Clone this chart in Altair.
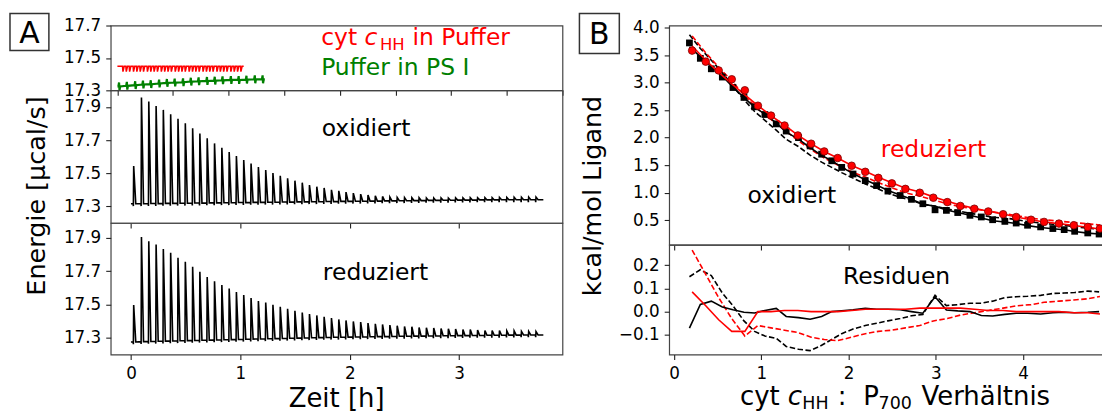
import altair as alt
import pandas as pd

FONT = "DejaVu Sans"

# ---------------- Panel A data (ITC thermograms) ----------------
# injection times [h]
inj_t = [0.022,
         0.093, 0.160, 0.227, 0.293, 0.360, 0.427, 0.494, 0.561, 0.627, 0.694,
         0.761, 0.828, 0.895, 0.961, 1.028, 1.095, 1.162, 1.229, 1.295, 1.362,
         1.429, 1.496, 1.563, 1.629, 1.696, 1.763, 1.830, 1.897, 1.963, 2.030,
         2.097, 2.164, 2.231, 2.297, 2.364, 2.431, 2.498, 2.565, 2.631, 2.698,
         2.765, 2.832, 2.899, 2.965, 3.032, 3.099, 3.166, 3.233, 3.299, 3.366,
         3.433, 3.500, 3.567, 3.633, 3.700]
trace_end_t = 3.77

# oxidiert: peak and baseline per injection [µcal/s]
ox_peak = [17.543,
           17.956, 17.932, 17.906, 17.882, 17.856, 17.829, 17.801, 17.771, 17.739, 17.711,
           17.680, 17.654, 17.628, 17.604, 17.580, 17.558, 17.537, 17.519, 17.501, 17.485,
           17.469, 17.455, 17.443, 17.429, 17.419, 17.411, 17.400, 17.394, 17.386, 17.380,
           17.374, 17.368, 17.364, 17.360, 17.356, 17.354, 17.353, 17.352, 17.352, 17.351,
           17.351, 17.351, 17.350, 17.351, 17.351, 17.352, 17.352, 17.353, 17.353, 17.354,
           17.354, 17.355, 17.355, 17.356, 17.356]
ox_base = [17.316,
           17.316, 17.317, 17.317, 17.318, 17.318, 17.319, 17.319, 17.320, 17.320, 17.321,
           17.321, 17.322, 17.322, 17.323, 17.323, 17.324, 17.324, 17.325, 17.325, 17.326,
           17.326, 17.327, 17.327, 17.328, 17.328, 17.329, 17.329, 17.330, 17.330, 17.331,
           17.331, 17.332, 17.332, 17.333, 17.333, 17.334, 17.334, 17.335, 17.335, 17.336,
           17.336, 17.337, 17.337, 17.338, 17.338, 17.338, 17.339, 17.339, 17.339, 17.340,
           17.340, 17.340, 17.340, 17.340, 17.340]
# reduziert
rd_peak = [17.497,
           17.906, 17.880, 17.860, 17.834, 17.811, 17.781, 17.757, 17.727, 17.697, 17.666,
           17.640, 17.618, 17.596, 17.576, 17.558, 17.540, 17.522, 17.512, 17.499, 17.487,
           17.475, 17.463, 17.453, 17.443, 17.435, 17.427, 17.419, 17.411, 17.405, 17.399,
           17.395, 17.389, 17.385, 17.381, 17.377, 17.373, 17.369, 17.367, 17.363, 17.361,
           17.360, 17.357, 17.355, 17.354, 17.351, 17.350, 17.348, 17.345, 17.345, 17.344,
           17.342, 17.342, 17.339, 17.339, 17.338]
rd_base = [17.276,
           17.278, 17.279, 17.280, 17.281, 17.282, 17.283, 17.284, 17.285, 17.286, 17.287,
           17.288, 17.289, 17.290, 17.291, 17.292, 17.293, 17.294, 17.295, 17.296, 17.297,
           17.298, 17.299, 17.300, 17.301, 17.302, 17.303, 17.304, 17.304, 17.305, 17.306,
           17.306, 17.307, 17.308, 17.308, 17.309, 17.310, 17.310, 17.311, 17.311, 17.312,
           17.312, 17.313, 17.313, 17.314, 17.314, 17.315, 17.315, 17.316, 17.316, 17.316,
           17.317, 17.317, 17.318, 17.318, 17.318]

# control runs (top strip, own time axis)
ctrl_red_t = [0.10, 0.16, 0.22, 0.29, 0.35, 0.41, 0.47, 0.54, 0.60, 0.66, 0.72, 0.79,
              0.85, 0.91, 0.97, 1.04, 1.10, 1.16, 1.22, 1.29, 1.35, 1.41, 1.47, 1.54,
              1.60, 1.66, 1.72, 1.79, 1.85, 1.91, 1.97, 2.04, 2.10, 2.16, 2.22]
ctrl_red_level = 17.448
ctrl_red_dip = 17.415
ctrl_red_end_t = 2.27
ctrl_green_t = [0.03, 0.17, 0.32, 0.46, 0.60, 0.75, 0.89, 1.03, 1.18, 1.32, 1.46, 1.61,
                1.75, 1.89, 2.04, 2.18, 2.32, 2.47, 2.61]
ctrl_green_base = [17.324, 17.328, 17.332, 17.336, 17.338, 17.342, 17.346, 17.348, 17.350,
                   17.354, 17.356, 17.358, 17.360, 17.362, 17.364, 17.364, 17.366, 17.368,
                   17.368]
ctrl_green_end_t = 2.65

# ---------------- Panel B data (binding isotherms) ----------------
ox_ratio = [0.175, 0.30, 0.426, 0.552, 0.674, 0.80, 0.922, 1.04, 1.17, 1.284,
            1.425, 1.558, 1.69, 1.806, 1.92, 2.05, 2.19, 2.32, 2.45, 2.59,
            2.72, 2.85, 2.99, 3.12, 3.25, 3.39, 3.52, 3.65, 3.79, 3.92,
            4.05, 4.20, 4.34, 4.47, 4.59, 4.74, 4.87]
ox_heat = [3.72, 3.44, 3.25, 3.10, 2.91, 2.73, 2.56, 2.42, 2.25, 2.12,
           2.00, 1.85, 1.70, 1.58, 1.46, 1.34, 1.22, 1.13, 1.03, 0.95,
           0.88, 0.80, 0.69, 0.68, 0.64, 0.59, 0.56, 0.51, 0.48, 0.45,
           0.41, 0.38, 0.35, 0.33, 0.30, 0.27, 0.25]
ox_res_solid = [-0.071, 0.031, 0.045, 0.02, 0.008, -0.003, -0.006, 0.005, 0.014, -0.021,
                -0.026, -0.033, -0.021, 0.0, 0.004, 0.008, 0.014, 0.01, 0.01, 0.008,
                0.0, -0.007, 0.064, 0.007, 0.003, 0.0, -0.017, -0.019, -0.012, -0.007,
                -0.007, -0.01, -0.005, -0.003, -0.005, -0.003, 0.0]
ox_res_dash = [0.15, 0.18, 0.155, 0.08, 0.025, -0.04, -0.085, -0.105, -0.115, -0.15,
               -0.162, -0.168, -0.145, -0.12, -0.095, -0.075, -0.06, -0.05, -0.04, -0.03,
               -0.018, -0.012, 0.07, 0.026, 0.03, 0.036, 0.036, 0.045, 0.06, 0.064,
               0.066, 0.07, 0.078, 0.08, 0.082, 0.088, 0.085]

rd_ratio = [0.206, 0.362, 0.51, 0.66, 0.81, 0.96, 1.11, 1.265, 1.417, 1.57,
            1.72, 1.874, 2.034, 2.19, 2.34, 2.495, 2.65, 2.815, 2.97, 3.13,
            3.28, 3.44, 3.60, 3.77, 3.92, 4.09, 4.24, 4.41, 4.58, 4.74, 4.88]
rd_heat = [3.58, 3.38, 3.22, 3.06, 2.86, 2.58, 2.40, 2.22, 2.04, 1.89,
           1.75, 1.63, 1.49, 1.38, 1.27, 1.17, 1.07, 1.00, 0.91, 0.83,
           0.76, 0.71, 0.66, 0.61, 0.56, 0.51, 0.47, 0.44, 0.41, 0.38, 0.35]
rd_res_solid = [0.085, 0.025, -0.035, -0.085, -0.085, 0.0, 0.0, 0.005, 0.005, 0.0,
                0.0, 0.0, 0.005, 0.01, 0.01, 0.01, 0.01, 0.015, 0.015, 0.015,
                0.015, 0.01, 0.005, 0.005, 0.0, 0.0, 0.0, 0.0, -0.005, -0.005, -0.01]
rd_res_dash = [0.265, 0.16, 0.06, -0.03, -0.105, -0.06, -0.07, -0.08, -0.09, -0.11,
               -0.12, -0.125, -0.11, -0.095, -0.085, -0.08, -0.07, -0.06, -0.04, -0.03,
               -0.015, -0.005, 0.005, 0.015, 0.025, 0.03, 0.04, 0.045, 0.05, 0.055, 0.065]

assert len(inj_t) == len(ox_peak) == len(ox_base) == len(rd_peak) == len(rd_base)
assert len(ctrl_green_t) == len(ctrl_green_base)
assert len(ox_ratio) == len(ox_heat) == len(ox_res_solid) == len(ox_res_dash)
assert len(rd_ratio) == len(rd_heat) == len(rd_res_solid) == len(rd_res_dash)


# ---------------- tables ----------------
def thermo_df(ts, peaks, bases, t_end):
    tt, vv = [0.0], [bases[0]]
    for t, p, b in zip(ts, peaks, bases):
        tt += [t - 0.002, t, t + 0.003, t + 0.022]
        vv += [b, b - 0.014, p, b]
    tt.append(t_end)
    vv.append(bases[-1])
    return pd.DataFrame({"t": tt, "v": vv, "o": list(range(len(tt)))})


ox_df = thermo_df(inj_t, ox_peak, ox_base, trace_end_t)
rd_df = thermo_df(inj_t, rd_peak, rd_base, trace_end_t)

tt, vv = [0.0], [ctrl_red_level]
for t in ctrl_red_t:
    tt += [t - 0.008, t, t + 0.022]
    vv += [ctrl_red_level, ctrl_red_dip, ctrl_red_level]
tt.append(ctrl_red_end_t)
vv.append(ctrl_red_level)
ctrl_red_df = pd.DataFrame({"t": tt, "v": vv, "o": list(range(len(tt)))})

tt, vv = [0.0], [ctrl_green_base[0]]
for t, b in zip(ctrl_green_t, ctrl_green_base):
    tt += [t - 0.012, t, t + 0.008, t + 0.02]
    vv += [b, b + 0.024, b - 0.024, b]
tt.append(ctrl_green_end_t)
vv.append(ctrl_green_base[-1])
ctrl_green_df = pd.DataFrame({"t": tt, "v": vv, "o": list(range(len(tt)))})

ox_pts = pd.DataFrame({"x": ox_ratio, "v": ox_heat})
rd_pts = pd.DataFrame({"x": rd_ratio, "v": rd_heat})
ox_fit_solid = pd.DataFrame({"x": ox_ratio, "v": [h + r for h, r in zip(ox_heat, ox_res_solid)]})
ox_fit_dash = pd.DataFrame({"x": ox_ratio, "v": [h + r for h, r in zip(ox_heat, ox_res_dash)]})
rd_fit_solid = pd.DataFrame({"x": rd_ratio, "v": [h + r for h, r in zip(rd_heat, rd_res_solid)]})
rd_fit_dash = pd.DataFrame({"x": rd_ratio, "v": [h + r for h, r in zip(rd_heat, rd_res_dash)]})
ox_rs = pd.DataFrame({"x": ox_ratio, "r": ox_res_solid})
ox_rd = pd.DataFrame({"x": ox_ratio, "r": ox_res_dash})
rd_rs = pd.DataFrame({"x": rd_ratio, "r": rd_res_solid})
rd_rd = pd.DataFrame({"x": rd_ratio, "r": rd_res_dash})

one = pd.DataFrame({"k": [0]})


# ---------------- helpers ----------------
def ax(values, labels=True, fmt=None):
    d = dict(values=values, labels=labels, title=None)
    if fmt:
        d["format"] = fmt
    return alt.Axis(**d)


def txt(s, x, y, size, color="black", style="normal", align="left", angle=None):
    kw = dict(text=s, font=FONT, fontSize=size, color=color, fontStyle=style,
              align=align, baseline="alphabetic")
    if angle is not None:
        kw["angle"] = angle
    return alt.Chart(one).mark_text(**kw).encode(x=alt.value(x), y=alt.value(y))


def box(x1, x2, y1, y2):
    return alt.Chart(one).mark_rect(fill="white", stroke="#333", strokeWidth=1.5).encode(
        x=alt.value(x1), x2=alt.value(x2), y=alt.value(y1), y2=alt.value(y2))


RED = "#ff0000"
GREEN = "#008000"

# ---------------- Panel A ----------------
a1_x = alt.X("t:Q", scale=alt.Scale(domain=[-0.12, 8.0], nice=False, zero=False),
             axis=ax(list(range(9)), labels=False))
a1_y = alt.Y("v:Q", scale=alt.Scale(domain=[17.3, 17.7], nice=False, zero=False),
             axis=ax([17.3, 17.5, 17.7], fmt=".1f"))
A1 = alt.layer(
    box(-101, -62, -12, 25),
    txt("A", -81.5, 17.5, 30, align="center"),
    alt.Chart(ctrl_red_df).mark_line(color=RED, strokeWidth=1.5).encode(x=a1_x, y=a1_y, order="o:Q"),
    alt.Chart(ctrl_green_df).mark_line(color=GREEN, strokeWidth=2.2).encode(x=a1_x, y=a1_y, order="o:Q"),
    txt("cyt", 211, 19.5, 23.5, color=RED),
    txt("c", 254.5, 19.5, 23.5, color=RED, style="italic"),
    txt("HH", 270, 24.5, 16.5, color=RED),
    txt("in Puffer", 302.5, 19.5, 23.5, color=RED),
    txt("Puffer in PS I", 211, 50, 23.5, color=GREEN),
).properties(width=453, height=65)

t_scale = alt.Scale(domain=[-0.185, 3.945], nice=False, zero=False)
e_vals = [17.3, 17.5, 17.7, 17.9]

A2 = alt.layer(
    alt.Chart(ox_df).mark_line(color="black", strokeWidth=1.6).encode(
        x=alt.X("t:Q", scale=t_scale, axis=ax([0, 1, 2, 3], labels=False)),
        y=alt.Y("v:Q", scale=alt.Scale(domain=[17.2, 18.0], nice=False, zero=False),
                axis=ax(e_vals, fmt=".1f")),
        order="o:Q"),
    txt("oxidiert", 256, 46, 23.5, align="center"),
    txt("Energie [µcal/s]", -66, 106, 25.5, align="center", angle=270),
).properties(width=453, height=133)

A3 = alt.layer(
    alt.Chart(rd_df).mark_line(color="black", strokeWidth=1.6).encode(
        x=alt.X("t:Q", scale=t_scale, axis=ax([0, 1, 2, 3], fmt="d")),
        y=alt.Y("v:Q", scale=alt.Scale(domain=[17.2, 17.99], nice=False, zero=False),
                axis=ax(e_vals, fmt=".1f")),
        order="o:Q"),
    txt("reduziert", 265.5, 57.3, 23.5, align="center"),
    txt("Zeit [h]", 226.5, 184.5, 26, align="center"),
).properties(width=453, height=132)

# ---------------- Panel B ----------------
bx_scale = alt.Scale(domain=[-0.057, 5.029], nice=False, zero=False)
b1_x = alt.X("x:Q", scale=bx_scale, axis=ax([0, 1, 2, 3, 4, 5], labels=False))
b1_y = alt.Y("v:Q", scale=alt.Scale(domain=[0.053, 4.036], nice=False, zero=False),
             axis=ax([0.5, 1.0, 1.5, 2.0, 2.5, 3.0, 3.5, 4.0], fmt=".1f"))
DASH = [5.5, 2.5]

B1 = alt.layer(
    box(-90, -50, -12, 28),
    txt("B", -70, 19, 30, align="center"),
    alt.Chart(ox_fit_dash).mark_line(color="black", strokeWidth=1.6, strokeDash=DASH).encode(x=b1_x, y=b1_y),
    alt.Chart(rd_fit_dash).mark_line(color=RED, strokeWidth=1.6, strokeDash=DASH).encode(x=b1_x, y=b1_y),
    alt.Chart(ox_fit_solid).mark_line(color="black", strokeWidth=1.6).encode(x=b1_x, y=b1_y),
    alt.Chart(ox_pts).mark_square(size=46, color="black", opacity=1).encode(x=b1_x, y=b1_y),
    alt.Chart(rd_fit_solid).mark_line(color=RED, strokeWidth=1.6).encode(x=b1_x, y=b1_y),
    alt.Chart(rd_pts).mark_point(shape="circle", filled=True, size=58, fill=RED, stroke="#7a0000",
                                 strokeWidth=0.8, opacity=1).encode(x=b1_x, y=b1_y),
    txt("reduziert", 265, 132, 23.5, color=RED, align="center"),
    txt("oxidiert", 123, 177.7, 23.5, align="center"),
    txt("kcal/mol Ligand", -68, 171, 25.5, align="center", angle=270),
).properties(width=445, height=220)

b2_x = alt.X("x:Q", scale=bx_scale, axis=ax([0, 1, 2, 3, 4, 5], fmt="d"))
b2_y = alt.Y("r:Q", scale=alt.Scale(domain=[-0.185, 0.287], nice=False, zero=False),
             axis=ax([-0.1, 0.0, 0.1, 0.2], fmt=".1f"))

B2 = alt.layer(
    alt.Chart(ox_rd).mark_line(color="black", strokeWidth=1.6, strokeDash=DASH).encode(x=b2_x, y=b2_y),
    alt.Chart(rd_rd).mark_line(color=RED, strokeWidth=1.6, strokeDash=DASH).encode(x=b2_x, y=b2_y),
    alt.Chart(ox_rs).mark_line(color="black", strokeWidth=1.6).encode(x=b2_x, y=b2_y),
    alt.Chart(rd_rs).mark_line(color=RED, strokeWidth=1.6).encode(x=b2_x, y=b2_y),
    txt("Residuen", 228, 39.3, 23.5, align="center"),
    txt("cyt", 71, 160.5, 26),
    txt("c", 119, 160.5, 26, style="italic"),
    txt("HH", 133.5, 164.5, 17.5),
    txt(":", 169, 160.5, 26),
    txt("P", 194.5, 160.5, 26),
    txt("700", 210, 164.5, 17.5),
    txt("Verhältnis", 253, 160.5, 26),
).properties(width=445, height=110)

left = alt.vconcat(A1, A2, A3, spacing=0, bounds="flush")
right = alt.vconcat(B1, B2, spacing=0, bounds="flush")

# negative right padding: the panel B frame runs past the picture's right edge
chart = alt.hconcat(left, right, spacing=13).properties(
    padding={"left": 0, "top": 3, "right": -15, "bottom": -2}
)
chart = (
    chart.configure(font=FONT)
    .configure_view(stroke="#444", strokeWidth=1.2)
    .configure_axis(grid=False, domain=False, tickColor="#222", tickWidth=1.1, tickSize=5,
                    labelFont=FONT, labelFontSize=16.8, labelColor="black", labelPadding=5,
                    labelFlush=False, titleFont=FONT)
    .configure_axisX(labelPadding=6)
)

chart.save("out.html", embed_options={"renderer": "svg", "actions": False})
